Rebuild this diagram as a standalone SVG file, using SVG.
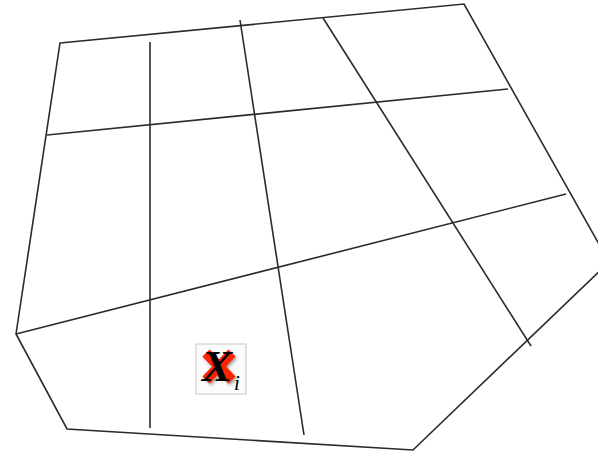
<svg xmlns="http://www.w3.org/2000/svg" width="598" height="452" viewBox="0 0 598 452">
<style>
.ln{fill:none;stroke:#2b2b2b;stroke-width:1.6;stroke-linejoin:miter}
.box{fill:#fbfbfb;stroke:#c8c8c8;stroke-width:1}
.cross{stroke:#ff2200;stroke-width:10;stroke-linecap:butt}
.sh{stroke:#000;stroke-opacity:0.35;stroke-width:10}
.X{font-family:"Liberation Serif",serif;font-style:italic;font-weight:bold;font-size:45px;fill:#000}
.i{font-family:"Liberation Serif",serif;font-style:italic;font-size:21px;fill:#000}
</style>
<defs>
<filter id="blur" x="-20%" y="-20%" width="140%" height="140%"><feGaussianBlur stdDeviation="1.5"/></filter>
</defs>
<g id="connectors">
<polygon class="ln" points="60,43 464,4 609,262 413,450 67,429 16,334"/>
<line class="ln" x1="47" y1="135" x2="508" y2="89"/>
<line class="ln" x1="16" y1="334" x2="566" y2="194"/>
<line class="ln" x1="150" y1="42" x2="150" y2="428"/>
<line class="ln" x1="240" y1="20" x2="304" y2="435"/>
<line class="ln" x1="323" y1="18" x2="531" y2="346"/>
</g>
<g id="node-xi">
<rect class="box" x="196" y="344" width="50" height="50"/>
<g filter="url(#blur)" transform="translate(1.5,2)">
<line class="sh" x1="206" y1="353" x2="232" y2="380"/>
<line class="sh" x1="232" y1="353" x2="206" y2="380"/>
</g>
<line class="cross" x1="206" y1="353" x2="232" y2="380"/>
<line class="cross" x1="232" y1="353" x2="206" y2="380"/>
<text class="X" x="202" y="381">X</text>
<text class="i" x="234" y="390">i</text>
</g>
</svg>
